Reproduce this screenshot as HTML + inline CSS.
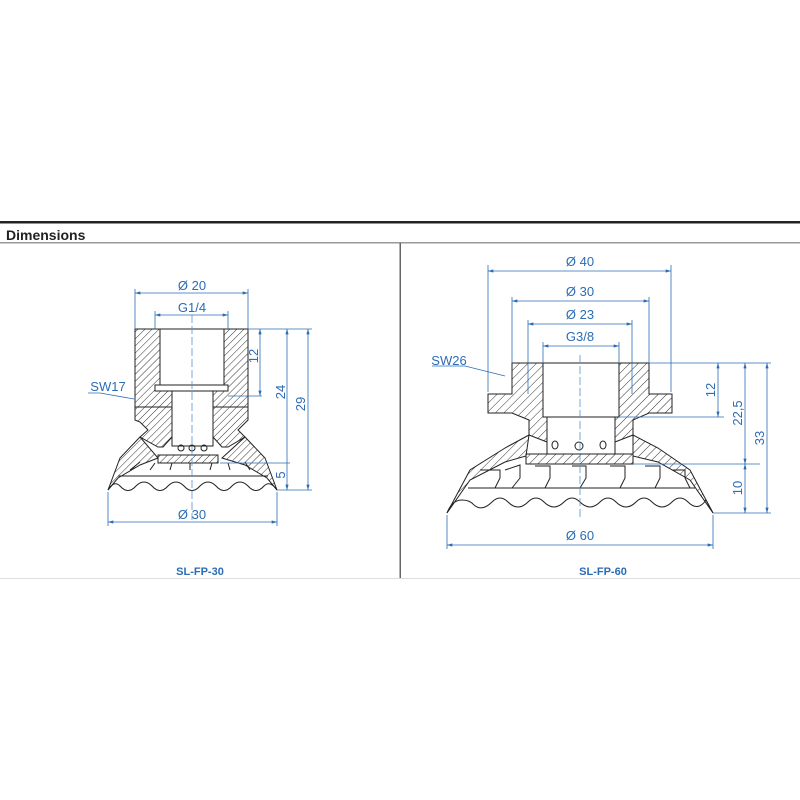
<!DOCTYPE html>
<html><head><meta charset="utf-8"><style>
html,body{margin:0;padding:0;background:#fff;}
svg{display:block;}
</style></head><body>
<svg width="800" height="800" viewBox="0 0 800 800" xmlns="http://www.w3.org/2000/svg" font-family="Liberation Sans, sans-serif">
<defs>
<pattern id="h" width="5" height="5" patternUnits="userSpaceOnUse" patternTransform="rotate(45)">
<line x1="0" y1="0" x2="0" y2="5" stroke="#333" stroke-width="1"/>
</pattern>
<pattern id="h2" width="6" height="6" patternUnits="userSpaceOnUse" patternTransform="rotate(45)">
<line x1="0" y1="0" x2="0" y2="6" stroke="#333" stroke-width="1"/>
</pattern>
<marker id="a" viewBox="0 0 10 6" refX="10" refY="3" markerWidth="7" markerHeight="4" orient="auto-start-reverse"><path d="M0,0L10,3L0,6z" fill="#2b6cb5"/></marker>
</defs>
<!-- header -->
<rect x="0" y="221" width="800" height="2.5" fill="#222"/>
<text x="6" y="240" font-size="14" font-weight="bold" fill="#222">Dimensions</text>
<rect x="0" y="242" width="800" height="1.5" fill="#999"/>
<rect x="399.5" y="243" width="1.5" height="335" fill="#666"/>
<rect x="0" y="578" width="800" height="1" fill="#ddd"/>
<text x="200" y="575" font-size="11" font-weight="bold" fill="#2b6cb5" text-anchor="middle">SL-FP-30</text>
<text x="603" y="575" font-size="11" font-weight="bold" fill="#2b6cb5" text-anchor="middle">SL-FP-60</text>

<!-- LEFT drawing -->
<g stroke="#222" stroke-width="1" fill="url(#h)">
<path d="M135,329H248V407H135Z"/>
<path d="M135,407H172V437L163,447H158L140,437L148,430L140,422L135,420Z"/>
<path d="M248,407H213V437L222,447H228L245,437L238,430L246,422L248,420Z"/>
<path d="M158,455H218V463H158Z" fill="url(#h)"/>
<path d="M140,437L120,458L108,490L118,478L140,465L158,458Z"/>
<path d="M245,437L265,458L277,490L267,478L245,465L222,458Z"/>
</g>
<rect x="160" y="329" width="64" height="58" fill="#fff" stroke="#222"/>
<rect x="155" y="385" width="73" height="6" fill="#fff" stroke="#222"/>
<rect x="172" y="391" width="41" height="55" fill="#fff" stroke="#222"/>
<g stroke="#222" fill="none" stroke-width="1">
<circle cx="181" cy="448" r="3"/><circle cx="192" cy="448" r="3"/><circle cx="204" cy="448" r="3"/>
<path d="M108,490Q114,480 120,486Q128,495 136,486Q144,478 152,486Q160,495 168,486Q176,478 184,486Q192,495 200,486Q208,478 216,486Q224,495 232,486Q240,478 248,486Q256,495 264,486Q270,480 277,490"/>
<path d="M118,476H268M130,470L140,462M150,470L155,463M170,470L172,463M190,470V463M210,470L212,463M230,470L228,463M250,470L245,462"/>
</g>
<line x1="192" y1="315" x2="192" y2="520" stroke="#5b8fd0" stroke-width="0.8" stroke-dasharray="8,3"/>

<g stroke="#2b6cb5" stroke-width="0.8" fill="none">
<path d="M135,289V329M248,289V329M155,311V329M228,311V329"/>
<line x1="135" y1="293" x2="248" y2="293" marker-start="url(#a)" marker-end="url(#a)"/>
<line x1="155" y1="315" x2="228" y2="315" marker-start="url(#a)" marker-end="url(#a)"/>
<path d="M248,329H312M228,396H262M220,463H290M277,490H312M108,492V526M277,492V526"/>
<line x1="260" y1="329" x2="260" y2="396" marker-start="url(#a)" marker-end="url(#a)"/>
<line x1="287" y1="329" x2="287" y2="490" marker-start="url(#a)" marker-end="url(#a)"/>
<line x1="308" y1="329" x2="308" y2="490" marker-start="url(#a)" marker-end="url(#a)"/>
<line x1="108" y1="522" x2="277" y2="522" marker-start="url(#a)" marker-end="url(#a)"/>
<path d="M88,393L100,393L134,399"/>
</g>
<g fill="#2b6cb5" font-size="13" text-anchor="middle">
<text x="192" y="290">Ø 20</text>
<text x="192" y="312">G1/4</text>
<text x="192" y="519">Ø 30</text>
<text x="108" y="391">SW17</text>
<text transform="translate(258,356) rotate(-90)">12</text>
<text transform="translate(285,392) rotate(-90)">24</text>
<text transform="translate(305,404) rotate(-90)">29</text>
<text transform="translate(285,475) rotate(-90)">5</text>
</g>

<!-- RIGHT drawing -->
<g stroke="#222" stroke-width="1" fill="url(#h2)">
<path d="M512,363H649V394H672V413H649L633,420V435L615,442V417H547V442L529,435V420L512,413H488V394H512Z"/>
<path d="M526,454H633V464H526Z"/>
<path d="M529,435L505,448L470,470L447,513L470,480L505,462L526,456Z"/>
<path d="M633,435L658,448L690,470L713,513L690,480L658,462L633,456Z"/>
</g>
<rect x="543" y="363" width="76" height="54" fill="#fff" stroke="#222"/>
<rect x="547" y="417" width="68" height="37" fill="#fff" stroke="#222"/>
<g stroke="#222" fill="none" stroke-width="1">
<ellipse cx="555" cy="445" rx="3" ry="4"/><circle cx="579" cy="446" r="4"/><ellipse cx="603" cy="445" rx="3" ry="4"/>
<path d="M447,513Q452,500 462,500Q470,500 474,505Q482,512 492,502Q500,494 508,502Q518,512 528,502Q536,494 544,502Q554,512 564,502Q572,494 580,502Q590,512 600,502Q608,494 616,502Q626,512 636,502Q644,494 652,502Q662,512 672,502Q680,494 688,502Q698,512 706,500L713,513"/>
<path d="M468,488H695M480,470H500V478L495,488M505,470L520,465V478L512,488M535,466H550V478L545,488M572,466H586V478L580,488M610,466H625V478L620,488M645,466H660V478L655,488M672,470H685V478L690,488"/>
</g>
<line x1="580" y1="355" x2="580" y2="520" stroke="#5b8fd0" stroke-width="0.8" stroke-dasharray="8,3"/>

<g stroke="#2b6cb5" stroke-width="0.8" fill="none">
<path d="M488,265V392M671,265V392M512,297V363M649,297V363M528,320V394M632,320V394M543,342V363M619,342V363"/>
<line x1="488" y1="271" x2="671" y2="271" marker-start="url(#a)" marker-end="url(#a)"/>
<line x1="512" y1="301" x2="649" y2="301" marker-start="url(#a)" marker-end="url(#a)"/>
<line x1="528" y1="324" x2="632" y2="324" marker-start="url(#a)" marker-end="url(#a)"/>
<line x1="543" y1="346" x2="619" y2="346" marker-start="url(#a)" marker-end="url(#a)"/>
<path d="M649,363H771M619,417H724M633,464H760M713,513H771M447,515V549M713,515V549"/>
<line x1="718" y1="363" x2="718" y2="417" marker-start="url(#a)" marker-end="url(#a)"/>
<line x1="745" y1="363" x2="745" y2="464" marker-start="url(#a)" marker-end="url(#a)"/>
<line x1="767" y1="363" x2="767" y2="513" marker-start="url(#a)" marker-end="url(#a)"/>
<line x1="745" y1="464" x2="745" y2="513" marker-start="url(#a)" marker-end="url(#a)"/>
<line x1="447" y1="545" x2="713" y2="545" marker-start="url(#a)" marker-end="url(#a)"/>
<path d="M432,366H465L505,376"/>
</g>
<g fill="#2b6cb5" font-size="13" text-anchor="middle">
<text x="580" y="266">Ø 40</text>
<text x="580" y="296">Ø 30</text>
<text x="580" y="319">Ø 23</text>
<text x="580" y="341">G3/8</text>
<text x="580" y="540">Ø 60</text>
<text x="449" y="365">SW26</text>
<text transform="translate(715,390) rotate(-90)">12</text>
<text transform="translate(742,413) rotate(-90)">22,5</text>
<text transform="translate(764,438) rotate(-90)">33</text>
<text transform="translate(742,488) rotate(-90)">10</text>
</g>
</svg>
</body></html>
